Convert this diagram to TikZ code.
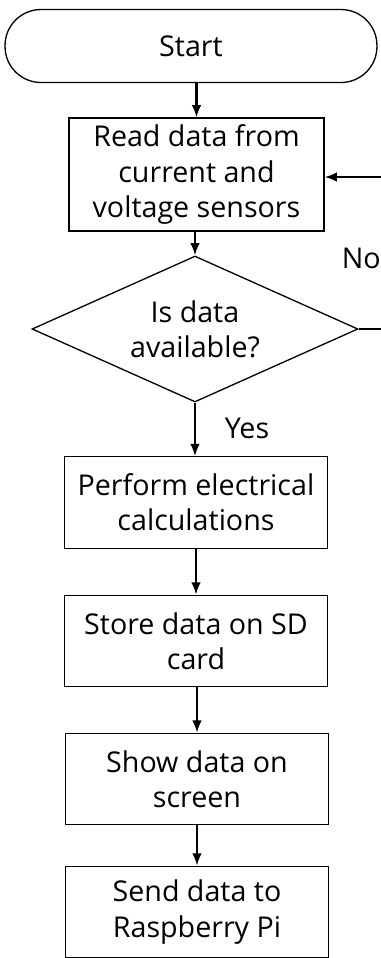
\documentclass[tikz,border=0pt]{standalone}
\usepackage{fontspec}
\setmainfont{Open Sans}
\usetikzlibrary{shapes.geometric,arrows.meta}

\begin{document}
\begin{tikzpicture}[x=0.02cm,y=-0.02cm]
\tikzstyle{every node}=[font=\fontsize{16.3}{20}\selectfont, align=center, inner sep=1pt]
\tikzstyle{box}=[draw, line width=0.75pt, minimum width=5.26cm, minimum height=1.83cm]
\tikzstyle{term}=[draw, line width=0.75pt, rounded corners=0.72cm, minimum width=7.44cm, minimum height=1.46cm]
\tikzstyle{decision}=[draw, diamond, line width=0.75pt, inner sep=-12pt, minimum width=6.52cm, minimum height=2.92cm]
\tikzstyle{arr}=[-{Latex[length=7pt,width=5.5pt]}, line width=1.3pt]
%\tikzstyle{arr}=[->, thick]

\useasboundingbox (0,0) rectangle (381,958);

\node[term] (start) at (191,46) {Start};
\node[box, minimum width=5.1cm, minimum height=2.26cm] (read) at (196.5,174.5) {Read data from\\current and\\voltage sensors};
\node[decision] (avail) at (195,329) {Is data\\available?};
\node[box] (calc) at (196,502.5) {Perform electrical\\calculations};
\node[box] (store) at (196,641) {Store data on SD\\card};
\node[box] (show) at (197,779) {Show data on\\screen};
\node[box] (send) at (197,912) {Send data to\\Raspberry Pi};

\node[anchor=east, inner sep=0pt] (no) at (381,258) {No};
\node (yes) at (247,428) {Yes};

\coordinate (noend) at (381,329);
\coordinate (back) at (381,177);

\draw[arr] (start.south -| read.north) -- (read.north);
\draw[arr] (read.south -| avail.north) -- (avail.north);
\draw[arr] (avail.south) -- (avail.south |- calc.north);
\draw[arr] (calc.south -| store.north) -- (store.north);
\draw[arr] (store.south -| show.north) -- (show.north);
\draw[arr] (show.south) -- (send.north);
\draw[line width=1.3pt] (avail.east) -- (noend);
\draw[arr] (back) -- (back -| read.east);

\end{tikzpicture}
\end{document}
